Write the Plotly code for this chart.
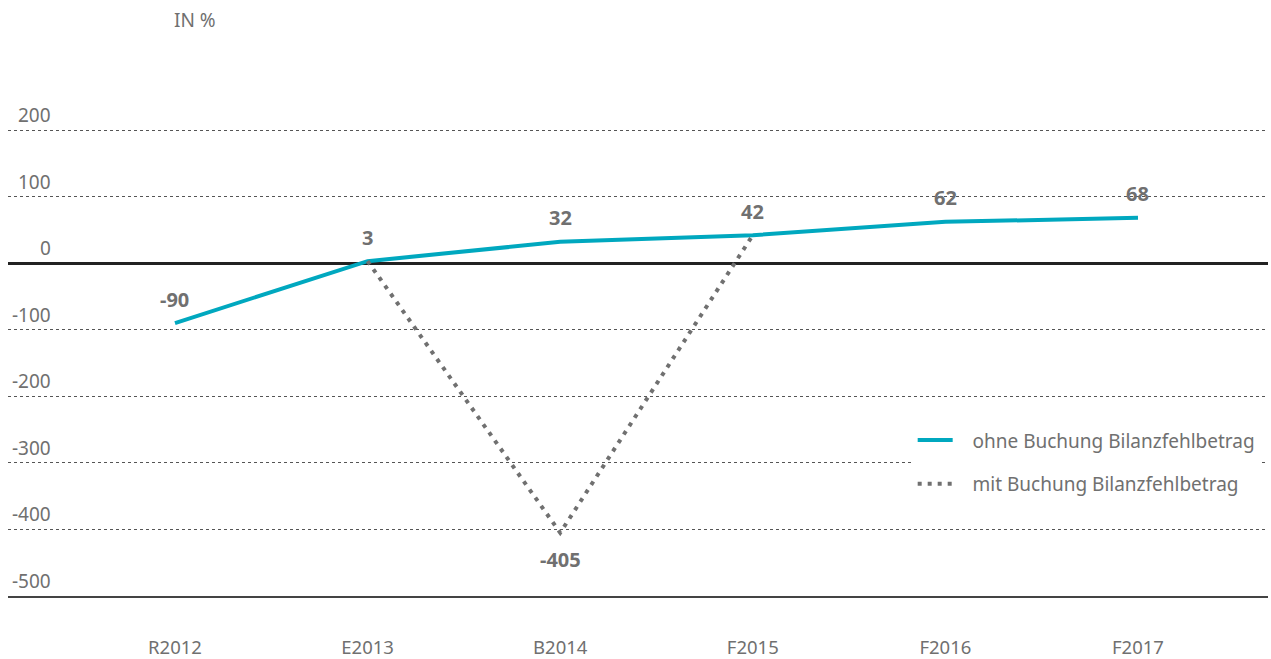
import plotly.graph_objects as go

categories = ["R2012", "E2013", "B2014", "F2015", "F2016", "F2017"]
ohne_buchung = [-90, 3, 32, 42, 62, 68]
mit_buchung = [None, 3, -405, 42, None, None]
y_ticks = [200, 100, 0, -100, -200, -300, -400, -500]

TEAL = "#00A8BF"
GRAY = "#707070"
FONT = "Noto Sans"
PAD = "\u00a0\u00a0\u00a0"

fig = go.Figure()

fig.add_trace(go.Scatter(
    x=categories, y=ohne_buchung, mode="lines",
    name=PAD + "ohne Buchung Bilanzfehlbetrag",
    line=dict(color=TEAL, width=4),
    legendgroup="a",
))
fig.add_trace(go.Scatter(
    x=categories, y=mit_buchung, mode="lines",
    name=PAD + "mit Buchung Bilanzfehlbetrag",
    line=dict(color=GRAY, width=4, dash="4px,6px"),
    connectgaps=False,
    legendgroup="b",
))

# value labels
for cat, val in zip(categories, ohne_buchung):
    fig.add_annotation(x=cat, y=val, text="<b>%d</b>" % val, showarrow=False,
                       yshift=24, font=dict(size=20, color=GRAY, family=FONT))
for cat, val in zip(categories, mit_buchung):
    if val is not None and val < 0:
        fig.add_annotation(x=cat, y=val, text="<b>%d</b>" % val, showarrow=False,
                           yshift=-27, font=dict(size=20, color=GRAY, family=FONT))

# y tick labels sit above the grid lines
for t in y_ticks:
    fig.add_annotation(x=0.0357, xref="paper", y=t, yref="y", text=str(t),
                       showarrow=False, xanchor="right", yshift=15,
                       font=dict(size=19, color=GRAY, family=FONT))

fig.add_annotation(x=0.130, xref="paper", y=1.2318, yref="paper", text="IN %",
                   showarrow=False, xanchor="left", yanchor="middle",
                   font=dict(size=19, color=GRAY, family=FONT))

fig.update_xaxes(
    range=[-0.867, 5.675],
    showgrid=False, automargin=False,
    showline=True, linecolor="#444444", linewidth=1.5,
    ticks="", ticklabelstandoff=34,
    tickfont=dict(size=18.5, color=GRAY, family=FONT),
)
fig.update_yaxes(
    range=[-500, 203],
    tickvals=y_ticks,
    showticklabels=False, automargin=False,
    showgrid=True, gridcolor="#555555", gridwidth=1, griddash="dot",
    zeroline=True, zerolinecolor="#222222", zerolinewidth=2.5,
)

fig.update_layout(
    width=1271, height=659, autosize=False,
    margin=dict(l=8, r=3, t=128, b=63),
    plot_bgcolor="white", paper_bgcolor="white",
    font=dict(family=FONT, color=GRAY),
    legend=dict(
        x=0.718, xanchor="left", y=0.3734, yanchor="top",
        bgcolor="white", tracegroupgap=16, itemwidth=35,
        font=dict(size=19, color=GRAY, family=FONT),
    ),
)

fig.write_html("out.html",
               config={"displayModeBar": False, "responsive": False},
               post_script="document.body.style.margin='0';document.body.style.overflow='hidden';")
